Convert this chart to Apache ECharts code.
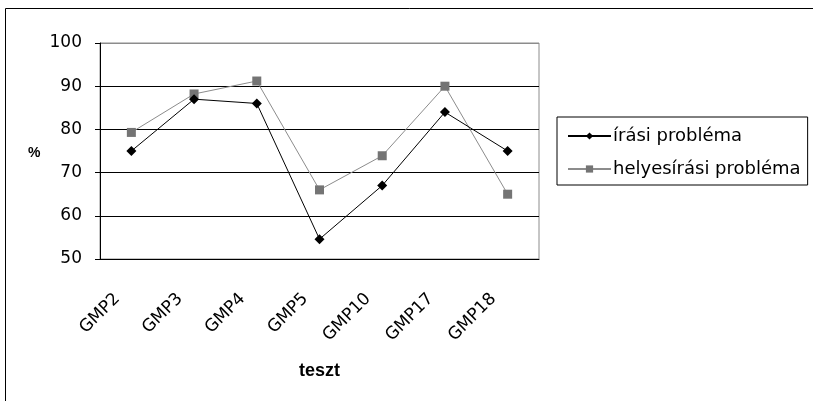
<!DOCTYPE html>
<html>
<head>
<meta charset="utf-8">
<script src="https://cdn.jsdelivr.net/npm/echarts@6/dist/echarts.min.js"></script>
<style>
  html, body { margin: 0; padding: 0; background: #fff; }
  #chart { width: 813px; height: 401px; }
</style>
</head>
<body>
<div id="chart"></div>
<script>
const categories = ["GMP2", "GMP3", "GMP4", "GMP5", "GMP10", "GMP17", "GMP18"];
const irasi = [75, 87, 86, 54.6, 67, 84, 75];
const helyesirasi = [79.3, 88.2, 91.2, 66, 73.9, 90, 65];
const yTicks = { min: 50, max: 100, interval: 10 };

let chart = echarts.init(document.getElementById("chart"));
let font = "'DejaVu Sans', sans-serif";

let option = {
  backgroundColor: "#fff",
  animation: false,
  textStyle: { fontFamily: font },
  graphic: [
    {
      type: "rect",
      shape: { x: 5.5, y: 8.5, width: 900, height: 500 },
      style: { fill: "none", stroke: "#000", lineWidth: 1 },
    },
    {
      type: "text",
      left: 28,
      top: 146,
      style: { text: "%", font: "bold 14px 'Liberation Sans', Arial", fill: "#000" },
    },
  ],
  grid: {
    left: 100,
    top: 43,
    right: 274,
    bottom: 142,
    show: true,
    borderColor: "#8c8c8c",
    borderWidth: 1,
  },
  legend: {
    orient: "vertical",
    left: 557,
    top: 117,
    padding: [10, 7, 7, 10],
    itemGap: 15,
    itemWidth: 43,
    itemHeight: 9,
    borderColor: "#000",
    borderWidth: 1,
    textStyle: { fontSize: 18, color: "#000", fontFamily: font, padding: [0, 0, 0, -3] },
    data: ["írási probléma", "helyesírási probléma"],
  },
  xAxis: {
    type: "category",
    data: categories,
    boundaryGap: true,
    name: "teszt",
    nameLocation: "middle",
    nameGap: 103,
    nameTextStyle: {
      fontSize: 18,
      fontWeight: "bold",
      color: "#000",
      fontFamily: "'Liberation Sans', Arial, sans-serif",
    },
    axisLine: { lineStyle: { color: "#000", width: 1 } },
    axisTick: { length: 5, lineStyle: { color: "#000" } },
    axisLabel: { rotate: 45, fontSize: 17, color: "#000", margin: 23, padding: [0, 20, 0, 0] },
  },
  yAxis: {
    type: "value",
    min: yTicks.min,
    max: yTicks.max,
    interval: yTicks.interval,
    axisLine: { show: true, lineStyle: { color: "#000", width: 1 } },
    axisTick: { show: true, length: 5, lineStyle: { color: "#000" } },
    axisLabel: { fontSize: 17, color: "#000", margin: 18 },
    splitLine: {
      show: true,
      lineStyle: {
        color: ["#000", "#000", "#000", "#000", "#000", "#8c8c8c"],
        width: 1,
      },
    },
  },
  series: [
    {
      name: "helyesírási probléma",
      type: "line",
      data: helyesirasi,
      symbol: "rect",
      symbolSize: 9,
      lineStyle: { color: "#8c8c8c", width: 1 },
      itemStyle: { color: "#747474" },
    },
    {
      name: "írási probléma",
      type: "line",
      data: irasi,
      symbol: "diamond",
      symbolSize: 10,
      lineStyle: { color: "#000", width: 1 },
      itemStyle: { color: "#000" },
    },
  ],
};

chart.setOption(option);
</script>
</body>
</html>
